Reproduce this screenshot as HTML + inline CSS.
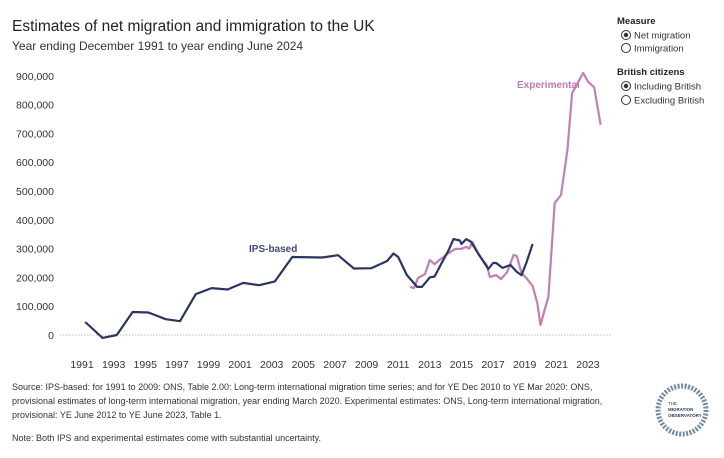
<!DOCTYPE html>
<html><head><meta charset="utf-8"><style>
body{margin:0;background:#fff;font-family:"Liberation Sans",sans-serif;}
svg text{font-family:"Liberation Sans",sans-serif;}
</style></head><body>
<svg id="chart" width="724" height="453" viewBox="0 0 724 453" xmlns="http://www.w3.org/2000/svg">
<text x="12" y="31" font-size="15.5" fill="#222">Estimates of net migration and immigration to the UK</text>
<text x="12" y="50" font-size="12" fill="#333">Year ending December 1991 to year ending June 2024</text>
<g font-size="9.5" fill="#333">
<text x="617" y="24" font-weight="bold" fill="#222">Measure</text>
<g><circle cx="626" cy="35" r="4.5" fill="none" stroke="#333"/><circle cx="626" cy="35" r="2.2" fill="#333"/><text x="634" y="38.5">Net migration</text></g>
<g><circle cx="626" cy="48" r="4.5" fill="none" stroke="#333"/><text x="634" y="51.5">Immigration</text></g>
<text x="617" y="75" font-weight="bold" fill="#222">British citizens</text>
<g><circle cx="626" cy="86" r="4.5" fill="none" stroke="#333"/><circle cx="626" cy="86" r="2.2" fill="#333"/><text x="634" y="89.5">Including British</text></g>
<g><circle cx="626" cy="100" r="4.5" fill="none" stroke="#333"/><text x="634" y="103.5">Excluding British</text></g>
</g>
<g id="yaxis"></g>
<g id="xaxis"></g>
<line x1="60" y1="335" x2="612" y2="335" stroke="#bbb" stroke-dasharray="1.5,1.5"/>
<g id="series"></g>
<text x="249" y="252" font-size="10" font-weight="bold" fill="#3d4a7a">IPS-based</text>
<text x="517" y="88" font-size="10" font-weight="bold" fill="#c07ab0">Experimental</text>
<g font-size="9" fill="#333">
<text x="12" y="390">Source: IPS-based: for 1991 to 2009: ONS, Table 2.00: Long-term international migration time series; and for YE Dec 2010 to YE Mar 2020: ONS,</text>
<text x="12" y="404">provisional estimates of long-term international migration, year ending March 2020. Experimental estimates: ONS, Long-term international migration,</text>
<text x="12" y="418">provisional: YE June 2012 to YE June 2023, Table 1.</text>
<text x="12" y="441">Note: Both IPS and experimental estimates come with substantial uncertainty.</text>
</g>
<g>
<circle cx="682" cy="410" r="24" fill="none" stroke="#4a6f93" stroke-width="5" stroke-dasharray="2,1.5" opacity="0.8"/>
<text x="668" y="405" font-size="4.5" fill="#2a3a5a">THE</text>
<text x="668" y="411" font-size="4.5" font-weight="bold" fill="#2a3a5a">MIGRATION</text>
<text x="668" y="417" font-size="4.5" font-weight="bold" fill="#2a3a5a">OBSERVATORY</text>
</g>
</svg>
<script>
const yTicks=[0,100000,200000,300000,400000,500000,600000,700000,800000,900000];
const xTicks=[1991,1993,1995,1997,1999,2001,2003,2005,2007,2009,2011,2013,2015,2017,2019,2021,2023];
const ipsYears=[1991.2,1992.3,1993.2,1994.2,1995.2,1996.3,1997.2,1998.2,1999.2,2000.2,2001.2,2002.2,2003.2,2004.3,2006.2,2007.2,2008.2,2009.3,2010.3,2010.7,2011.0,2011.55,2012.2,2012.5,2013.0,2013.3,2013.75,2014.2,2014.5,2014.9,2015.0,2015.3,2015.6,2016.0,2016.3,2016.7,2017.0,2017.2,2017.6,2018.1,2018.5,2018.8,2019.1,2019.5];
const ipsValues=[45000,-10000,0,80000,78000,55000,48000,142000,163000,158000,181000,173000,186000,271000,269000,277000,231000,232000,257000,283000,271000,208000,167000,167000,200000,203000,250000,296000,333000,328000,316000,333000,324000,288000,263000,229000,250000,250000,233000,243000,219000,208000,250000,316000];
const expYears=[2011.75,2012.0,2012.25,2012.7,2013.0,2013.3,2013.6,2014.1,2014.6,2015.0,2015.3,2015.5,2015.7,2016.1,2016.6,2016.8,2017.2,2017.5,2017.9,2018.3,2018.5,2018.8,2019.1,2019.5,2019.8,2020.0,2020.3,2020.5,2020.9,2021.3,2021.7,2022.0,2022.7,2023.0,2023.4,2023.8];
const expValues=[167000,163000,198000,212000,260000,246000,260000,281000,299000,299000,306000,300000,323000,278000,243000,201000,208000,194000,219000,278000,274000,215000,198000,170000,111000,35000,94000,132000,458000,486000,642000,840000,910000,880000,860000,730000];
const NS="http://www.w3.org/2000/svg";
const X=y=>82+(y-1991)*15.81;
const Y=v=>335-v/100000*28.8;
const ya=document.getElementById('yaxis'),xa=document.getElementById('xaxis'),sg=document.getElementById('series');
yTicks.forEach(v=>{const t=document.createElementNS(NS,'text');


t.setAttribute('x',54);t.setAttribute('y',Y(v)+4);t.setAttribute('text-anchor','end');t.setAttribute('font-size','10.5');t.setAttribute('fill','#333');
t.textContent=v.toLocaleString('en-US');ya.appendChild(t);});
xTicks.forEach(v=>{const t=document.createElementNS(NS,'text');


t.setAttribute('x',X(v));t.setAttribute('y',368);t.setAttribute('text-anchor','middle');t.setAttribute('font-size','10.5');t.setAttribute('fill','#333');
t.textContent=v;xa.appendChild(t);});
function line(xs,vs,color,name){const p=document.createElementNS(NS,'polyline');


p.setAttribute('points',xs.map((x,i)=>X(x).toFixed(1)+','+Y(vs[i]).toFixed(1)).join(' '));
p.setAttribute('fill','none');p.setAttribute('stroke',color);p.setAttribute('stroke-width','2.2');p.setAttribute('stroke-linejoin','round');sg.appendChild(p);}
line(expYears,expValues,'#c27fb4','experimental-line');
line(ipsYears,ipsValues,'#2b3564','ips-line');
</script>
</body></html>
